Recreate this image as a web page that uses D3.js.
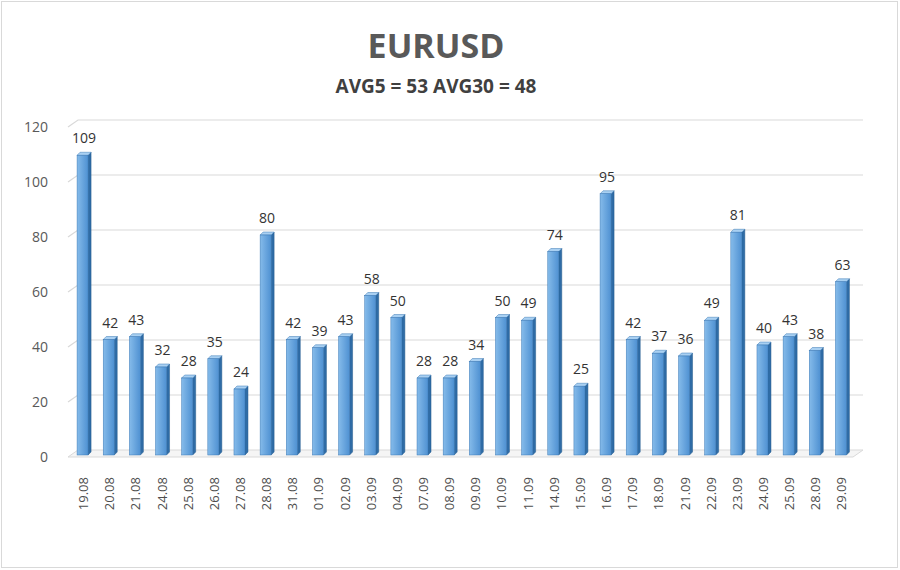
<!DOCTYPE html>
<html>
<head>
<meta charset="utf-8">
<script src="https://cdn.jsdelivr.net/npm/d3@7"></script>
<style>
  body { margin: 0; background: #fff; }
  text { font-family: "Open Sans", sans-serif; }
</style>
</head>
<body>
<script>
const days = ["19.08", "20.08", "21.08", "24.08", "25.08", "26.08", "27.08", "28.08", "31.08",
  "01.09", "02.09", "03.09", "04.09", "07.09", "08.09", "09.09", "10.09", "11.09", "14.09",
  "15.09", "16.09", "17.09", "18.09", "21.09", "22.09", "23.09", "24.09", "25.09", "28.09", "29.09"];
const ranges = [109, 42, 43, 32, 28, 35, 24, 80, 42, 39, 43, 58, 50, 28, 28, 34, 50, 49, 74,
  25, 95, 42, 37, 36, 49, 81, 40, 43, 38, 63];
const yTicks = [0, 20, 40, 60, 80, 100, 120];
const title = "EURUSD";
const subtitle = "AVG5 = 53 AVG30 = 48";

const W = 900, H = 570;
const depth = {dx: 10, dy: -7};   // 3d offset of the back wall

const svg = d3.select("body").append("svg")
    .attr("width", W)
    .attr("height", H);

// frame
svg.append("rect")
    .attr("x", 1.5).attr("y", 1.5)
    .attr("width", W - 4).attr("height", H - 4)
    .attr("fill", "#fff")
    .attr("stroke", "#d9d9d9");

const x = d3.scaleBand()
    .domain(days)
    .range([71, 71 + 30 * 26.15]);

const y = d3.scaleLinear()
    .domain([0, 120])
    .range([457, 127]);

const defs = svg.append("defs");
const grad = defs.append("linearGradient").attr("id", "front");
grad.append("stop").attr("offset", "0%").attr("stop-color", "#85bbea");
grad.append("stop").attr("offset", "100%").attr("stop-color", "#4f91d2");

// floor
const x0 = 68, x1 = 853;
svg.append("path")
    .attr("d", `M${x0},${y(0)} L${x1},${y(0)} L${x1 + depth.dx},${y(0) + depth.dy} L${x0 + depth.dx},${y(0) + depth.dy} Z`)
    .attr("fill", "#f5f5f5")
    .attr("stroke", "#d9d9d9");

// gridlines: slanted side wall segment + back wall line
const grid = svg.append("g");
yTicks.filter(t => t > 0).forEach(t => {
    grid.append("path")
        .attr("d", `M${x0},${y(t)} L${x0 + depth.dx},${y(t) + depth.dy} L${x1 + depth.dx},${y(t) + depth.dy}`)
        .attr("fill", "none")
        .attr("stroke", "#d9d9d9")
        .attr("stroke-width", 1.2);
});

// y axis labels
svg.append("g")
    .selectAll("text")
    .data(yTicks)
    .join("text")
    .attr("x", 48)
    .attr("y", d => y(d) + 5)
    .attr("text-anchor", "end")
    .attr("font-size", 14)
    .attr("fill", "#595959")
    .text(d => d);

// bars
const fw = 11, side = {dx: 3, dy: -3};
const bars = svg.append("g")
    .selectAll("g")
    .data(days.map((d, i) => ({day: d, v: ranges[i]})))
    .join("g")
    .attr("transform", d => `translate(${x(d.day) + x.bandwidth() / 2 - 7},-2)`);

bars.append("path")   // side face
    .attr("d", d => `M${fw},${y(d.v)} L${fw + side.dx},${y(d.v) + side.dy} L${fw + side.dx},${y(0) + side.dy} L${fw},${y(0)} Z`)
    .attr("fill", "#2f6ca6")
    .attr("stroke", "#255a8c")
    .attr("stroke-width", 0.5);

bars.append("path")   // top face
    .attr("d", d => `M0,${y(d.v)} L${side.dx},${y(d.v) + side.dy} L${fw + side.dx},${y(d.v) + side.dy} L${fw},${y(d.v)} Z`)
    .attr("fill", "#a9d0f2")
    .attr("stroke", "#3a78b5")
    .attr("stroke-width", 0.5);

bars.append("rect")   // front face
    .attr("x", 0)
    .attr("y", d => y(d.v))
    .attr("width", fw)
    .attr("height", d => y(0) - y(d.v))
    .attr("fill", "url(#front)")
    .attr("stroke", "#3a78b5")
    .attr("stroke-width", 0.5);

// value labels
svg.append("g")
    .selectAll("text")
    .data(days.map((d, i) => ({day: d, v: ranges[i]})))
    .join("text")
    .attr("x", d => x(d.day) + x.bandwidth() / 2)
    .attr("y", d => y(d.v) - 14)
    .attr("text-anchor", "middle")
    .attr("font-size", 14)
    .attr("fill", "#333")
    .text(d => d.v);

// x axis labels, rotated
svg.append("g")
    .selectAll("text")
    .data(days)
    .join("text")
    .attr("transform", d => `translate(${x(d) + x.bandwidth() / 2 + 4},477) rotate(-90)`)
    .attr("text-anchor", "end")
    .attr("font-size", 13)
    .attr("fill", "#4d4d4d")
    .text(d => d);

// titles
svg.append("text")
    .attr("x", 436).attr("y", 58)
    .attr("text-anchor", "middle")
    .attr("font-size", 34)
    .attr("font-weight", "bold")
    .attr("fill", "#595959")
    .text(title);

svg.append("text")
    .attr("x", 436).attr("y", 93)
    .attr("text-anchor", "middle")
    .attr("font-size", 19)
    .attr("font-weight", "bold")
    .attr("fill", "#404040")
    .text(subtitle);
</script>
</body>
</html>
